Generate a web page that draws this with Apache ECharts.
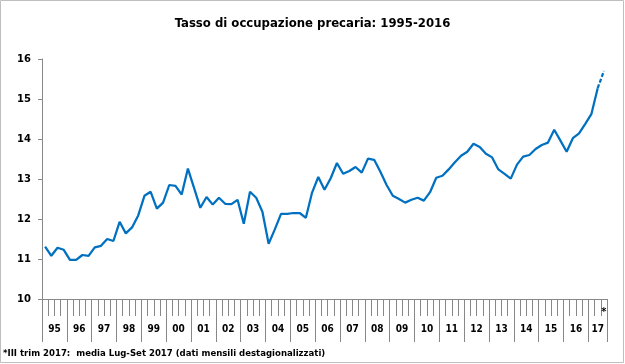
<!DOCTYPE html>
<html><head><meta charset="utf-8">
<script src="https://cdn.jsdelivr.net/npm/echarts@6/dist/echarts.min.js"></script>
<style>html,body{margin:0;padding:0;background:#fff}#c{width:625px;height:364px}</style>
</head><body><div id="c"></div>
<script>
const titleText = 'Tasso di occupazione precaria: 1995-2016';
const footnoteText = '*III trim 2017:  media Lug-Set 2017 (dati mensili destagionalizzati)';
const yearLabels = ['95','96','97','98','99','00','01','02','03','04','05','06','07','08','09','10','11','12','13','14','15','16','17'];
const provisionalMark = '*';
// quarterly values, 1995 T1 ... 2017 T3
const values = [
  11.31, 11.08, 11.28, 11.23,
  10.98, 10.98, 11.10, 11.08,
  11.29, 11.33, 11.50, 11.45,
  11.93, 11.64, 11.79, 12.09,
  12.58, 12.68, 12.26, 12.41,
  12.85, 12.83, 12.61, 13.26,
  12.77, 12.28, 12.55, 12.36,
  12.53, 12.38, 12.37, 12.48,
  11.88, 12.68, 12.53, 12.18,
  11.38, 11.74, 12.13, 12.13,
  12.15, 12.15, 12.03, 12.66,
  13.05, 12.73, 13.02, 13.40,
  13.13, 13.20, 13.30, 13.16,
  13.51, 13.48, 13.18, 12.85,
  12.58, 12.50, 12.41, 12.48,
  12.53, 12.46, 12.67, 13.03,
  13.08, 13.24, 13.42, 13.58,
  13.68, 13.88, 13.80, 13.63,
  13.54, 13.24, 13.13, 13.01,
  13.36, 13.56, 13.60, 13.75,
  13.85, 13.91, 14.23, 13.96,
  13.68, 14.02, 14.14, 14.38,
  14.63, 15.27, 15.70
];
const yMin = 10, yMax = 16, yStep = 1;

const categories = values.map((v, i) => yearLabels[Math.floor(i / 4)] + '-T' + (i % 4 + 1));
const last = values.length - 1;
const solid = values.map((v, i) => i < last ? v : null);
const dashed = values.map((v, i) => i >= last - 1 ? v : null);
const bounds = [], centers = [];
yearLabels.forEach((y, k) => {
  const s = k * 4, e = Math.min(s + 4, values.length);
  bounds.push(s); centers.push((s + e) / 2);
});
bounds.push(values.length);

const AX = '#888888';
const NARROW = 'Liberation Sans Narrow, DejaVu Sans Condensed, sans-serif';
const gridBox = {left: 42, right: 18, top: 59, bottom: 65, containLabel: false};
const chart = echarts.init(document.getElementById('c'), null, {renderer: 'canvas'});
chart.setOption({
  animation: false,
  backgroundColor: '#ffffff',
  title: [
    {text: titleText, left: 'center', top: 17, padding: 0,
     textStyle: {fontFamily: NARROW, fontWeight: 'bold', fontSize: 13, color: '#000'}},
    {text: footnoteText, left: 3, top: 349, padding: 0,
     textStyle: {fontFamily: NARROW, fontWeight: 'bold', fontSize: 9.5, color: '#000'}}
  ],
  graphic: [{type: 'rect', shape: {x: 0.5, y: 0.5, width: 623, height: 362},
             style: {fill: 'none', stroke: '#BFBFBF', lineWidth: 1}, silent: true}],
  grid: [Object.assign({}, gridBox), Object.assign({}, gridBox)],
  xAxis: [
    {type: 'category', gridIndex: 0, data: categories, boundaryGap: true,
     axisLine: {lineStyle: {color: AX, width: 1}},
     axisTick: {show: true, interval: 0, length: 17, lineStyle: {color: AX}},
     axisLabel: {interval: 0, margin: 8, formatter: (v, i) => i === last ? provisionalMark : '',
       fontFamily: NARROW, fontWeight: 'bold', fontSize: 11, color: '#000'},
     splitLine: {show: false}},
    {type: 'value', gridIndex: 1, min: 0, max: values.length,
     axisLine: {show: false}, splitLine: {show: false},
     axisTick: {show: true, customValues: bounds, length: 43, lineStyle: {color: AX}},
     axisLabel: {show: true, customValues: centers, margin: 25,
       formatter: (v) => yearLabels[centers.indexOf(v)],
       fontFamily: NARROW, fontWeight: 'bold', fontSize: 10, color: '#000'}}
  ],
  yAxis: [
    {type: 'value', gridIndex: 0, min: yMin, max: yMax, interval: yStep,
     axisLine: {show: true, lineStyle: {color: AX}},
     axisTick: {show: true, length: 4, lineStyle: {color: AX}},
     splitLine: {show: false},
     axisLabel: {margin: 11, fontFamily: 'DejaVu Sans', fontWeight: 'bold', fontSize: 10, color: '#000'}},
    {type: 'value', gridIndex: 1, min: 0, max: 1, show: false}
  ],
  series: [
    {type: 'line', xAxisIndex: 0, yAxisIndex: 0, data: solid, symbol: 'none',
     lineStyle: {color: '#0070C0', width: 2.25}, itemStyle: {color: '#0070C0'}},
    {type: 'line', xAxisIndex: 0, yAxisIndex: 0, data: dashed, symbol: 'none',
     lineStyle: {color: '#0070C0', width: 2.25, type: [4, 2]}, itemStyle: {color: '#0070C0'}}
  ]
});
</script></body></html>
